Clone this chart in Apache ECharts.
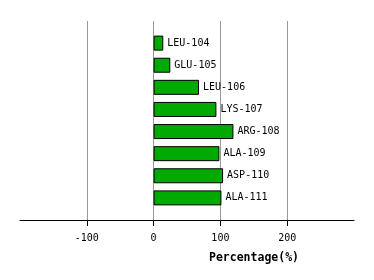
<!DOCTYPE html>
<html><head><meta charset="utf-8">
<script src="https://cdn.jsdelivr.net/npm/echarts@6/dist/echarts.min.js"></script>
<style>html,body{margin:0;padding:0;background:#fff}#c{width:374px;height:280px}</style>
</head><body><div id="c"></div>
<script>
var categories = ['LEU-104','GLU-105','LEU-106','LYS-107','ARG-108','ALA-109','ASP-110','ALA-111'];
var values = [14.5, 25, 68, 94, 119.5, 98.5, 104, 101.5];
var xTicks = [-100, 0, 100, 200];

var axisCats = [''].concat(categories).concat(['']);
var barData = [null].concat(values).concat([null]);

var chart = echarts.init(document.getElementById('c'), null, {renderer:'canvas'});
chart.setOption({
  animation: false,
  grid: {left: 20, right: 20, top: 21, bottom: 60, containLabel: false},
  xAxis: {
    type: 'value', min: -200, max: 300, interval: 100,
    name: 'Percentage(%)', nameLocation: 'middle', nameGap: 32,
    nameTextStyle: {fontFamily: 'DejaVu Sans Mono', fontSize: 11.5, fontWeight: 'bold', color: '#000', padding:[0,0,0,134]},
    axisLine: {show: true, lineStyle: {color: '#000', width: 1}},
    axisTick: {show: true, length: 6, lineStyle: {color: '#000'},
      customValues: xTicks},
    axisLabel: {
      fontFamily: 'DejaVu Sans Mono', fontSize: 10, color: '#000', margin: 13,
      customValues: xTicks
    },
    splitLine: {show: true, showMinLine: true, showMaxLine: true, lineStyle: {color: '#999', width: 1}}
  },
  yAxis: {
    type: 'category', data: axisCats, inverse: true, boundaryGap: false,
    axisLine: {show: false}, axisTick: {show: false}, axisLabel: {show: false},
    splitLine: {show: false}
  },
  series: [{
    type: 'bar', data: barData, barWidth: 15,
    itemStyle: {color: '#00aa00', borderColor: '#000', borderWidth: 1},
    label: {
      show: true, position: 'right', distance: 4,
      fontFamily: 'DejaVu Sans Mono', fontSize: 10, color: '#000',
      formatter: function(p){ return axisCats[p.dataIndex]; }
    }
  }]
});
</script></body></html>
